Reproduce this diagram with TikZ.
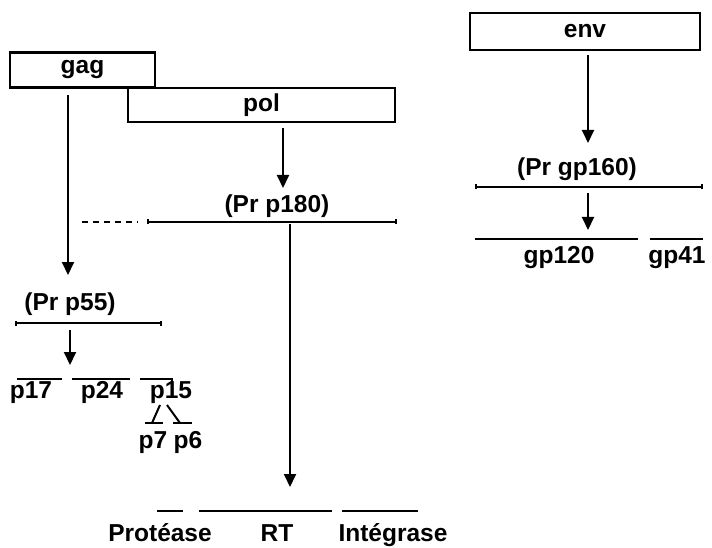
\documentclass[tikz,border=0pt]{standalone}
\usepackage{fontspec}
\setmainfont{Liberation Sans}
\usepackage{tikz}
\usetikzlibrary{arrows.meta,positioning}

\begin{document}
\begin{tikzpicture}[x=1pt, y=-1pt,
        every node/.style={font=\fontsize{24.5}{28}\selectfont\bfseries, inner sep=0pt},
        lbl/.style={anchor=base},
        genebox/.style={draw, line width=2.2pt, minimum height=35pt},
        seg/.style={line width=2pt},
        endseg/.style={line width=2pt, {Bar[width=5pt]}-{Bar[width=5pt]}},
        arrow/.style={line width=2pt, -{Triangle[width=12pt,length=13pt]}}]
        \useasboundingbox (0,0) rectangle (712,548);

        % genes
        \node[genebox, minimum width=145pt] (gag) at (82.5,70) {gag};
        \node[genebox, minimum width=267pt, minimum height=34pt] (pol) at (261.5,105) {pol};
        \node[genebox, minimum width=230pt, minimum height=37pt] (env) at (585,31.5) {env};

        % precursors
        \node[lbl] (prp180) at (277,213) {(Pr p180)};
        \node[lbl] (prp55) at (70,310) {(Pr p55)};
        \node[lbl] (prgp160) at (577,176) {(Pr gp160)};

        \draw[seg, dash pattern=on 6pt off 5pt] (82,222) -- (138,222);
        \draw[endseg] (147,222) -- (397,222);
        \draw[endseg] (15,323) -- (162,323);
        \draw[endseg] (475,187) -- (703,187);

        % gag products
        \node[lbl] (p17) at (31,398) {p17};
        \node[lbl] (p24) at (102,398) {p24};
        \node[lbl] (p15) at (171,398) {p15};
        \node[lbl] (p7) at (153,448) {p7};
        \node[lbl] (p6) at (188,448) {p6};
        \draw[seg] (17,379) -- (62,379);
        \draw[seg] (72,379) -- (130,379);
        \draw[seg] (140,379) -- (172,379) -- (172,384);
        \draw[seg] (160,405) -- (152,423);
        \draw[seg] (167,405) -- (180,423);
        \draw[seg] (145,423) -- (163,423);
        \draw[seg] (173,423) -- (192,423);

        % env products
        \node[lbl] (gp120) at (559,263) {gp120};
        \node[lbl] (gp41) at (677,263) {gp41};
        \draw[seg] (475,239) -- (638,239);
        \draw[seg] (650,239) -- (703,239);

        % pol products
        \node[lbl] (prot) at (160,541) {Protéase};
        \node[lbl] (rt) at (277,541) {RT};
        \node[lbl] (integ) at (393,541) {Intégrase};
        \draw[seg] (157,511) -- (183,511);
        \draw[seg] (199,511) -- (332,511);
        \draw[seg] (342,511) -- (418,511);

        % cleavage arrows
        \coordinate (gagtop) at (68,95);
        \coordinate (gagend) at (68,275);
        \coordinate (poltop) at (283,128);
        \coordinate (polend) at (283,188);
        \coordinate (rttop) at (290,224);
        \coordinate (rtend) at (290,487);
        \coordinate (p55top) at (70,330);
        \coordinate (p55end) at (70,365);
        \coordinate (envtop) at (588,55);
        \coordinate (envend) at (588,143);
        \coordinate (gp160top) at (588,193);
        \coordinate (gp160end) at (588,230);

        \draw[arrow] (gagtop) -- (gagend);
        \draw[arrow] (poltop) -- (polend);
        \draw[arrow] (rttop) -- (rtend);
        \draw[arrow] (p55top) -- (p55end);
        \draw[arrow] (envtop) -- (envend);
        \draw[arrow] (gp160top) -- (gp160end);
    \end{tikzpicture}
\end{document}
